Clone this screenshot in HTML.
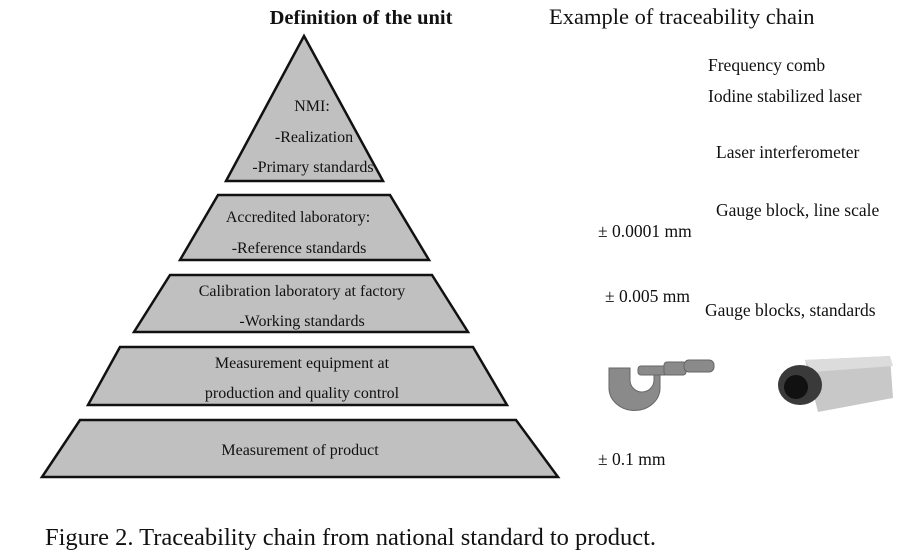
<!DOCTYPE html>
<html><head><meta charset="utf-8"><style>
body{margin:0;background:#fff;width:910px;height:556px;overflow:hidden}
svg{display:block}
text{font-family:"Liberation Serif",serif;fill:#111}
</style></head><body>
<svg width="910" height="556" viewBox="0 0 910 556">
<g fill="#c0c0c0" stroke="#111" stroke-width="2.5">
<polygon points="304,36 383,181 226,181"/>
<polygon points="218,195 390,195 429,260 180,260"/>
<polygon points="170,275 432,275 468,332 134,332"/>
<polygon points="120,347 473,347 507,405 88,405"/>
<polygon points="80,420 516,420 558,477 42,477"/>
</g>
<g font-size="16" text-anchor="middle">
<text x="312" y="111">NMI:</text>
<text x="314" y="142">-Realization</text>
<text x="313" y="172">-Primary standards</text>
<text x="298" y="222">Accredited laboratory:</text>
<text x="299" y="253">-Reference standards</text>
<text x="302" y="296">Calibration laboratory at factory</text>
<text x="302" y="326">-Working standards</text>
<text x="302" y="368">Measurement equipment at</text>
<text x="302" y="398">production and quality control</text>
<text x="300" y="455">Measurement of product</text>
</g>
<text x="361" y="24" font-size="20.5" font-weight="bold" text-anchor="middle">Definition of the unit</text>
<text x="549" y="24" font-size="22.5">Example of traceability chain</text>
<g font-size="17.5">
<text x="708" y="71">Frequency comb</text>
<text x="708" y="102">Iodine stabilized laser</text>
<text x="716" y="158">Laser interferometer</text>
<text x="716" y="216">Gauge block, line scale</text>
<text x="598" y="237">± 0.0001 mm</text>
<text x="605" y="302">± 0.005 mm</text>
<text x="705" y="316">Gauge blocks, standards</text>
<text x="598" y="465">± 0.1 mm</text>
</g>
<g fill="#8a8a8a" stroke="#666" stroke-width="1">
<path d="M609,368 L630,368 L630,380 A12,12 0 0 0 654,380 L654,372 L660,372 L660,388 A25,22 0 0 1 609,388 Z"/>
<rect x="638" y="366" width="30" height="9" rx="3"/>
<rect x="664" y="362" width="22" height="13" rx="3"/>
<rect x="684" y="360" width="30" height="12" rx="5"/>
</g>
<g>
<path d="M805,360 L890,356 L893,398 L818,412 Z" fill="#c8c8c8"/>
<path d="M805,360 L890,356 L893,366 L812,372 Z" fill="#dcdcdc"/>
<ellipse cx="800" cy="385" rx="22" ry="20" fill="#3a3a3a"/>
<ellipse cx="796" cy="387" rx="12" ry="12" fill="#111"/>
</g>
<text x="45" y="545" font-size="24.5">Figure 2. Traceability chain from national standard to product.</text>
</svg>
</body></html>
